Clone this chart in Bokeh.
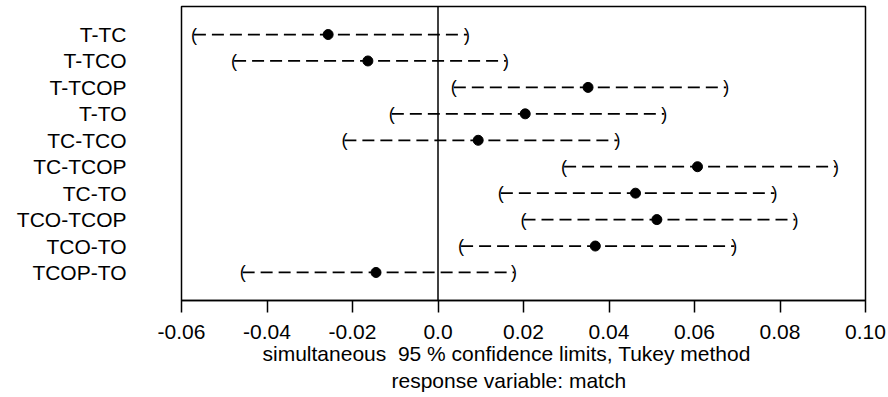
from bokeh.plotting import figure
from bokeh.models import Range1d, FixedTicker, Span, Title, CustomJSTickFormatter
from bokeh.embed import file_html
from bokeh.resources import INLINE
from bokeh.core.properties import value

comparisons = ["T-TC", "T-TCO", "T-TCOP", "T-TO", "TC-TCO",
               "TC-TCOP", "TC-TO", "TCO-TCOP", "TCO-TO", "TCOP-TO"]
estimate = [-0.0257, -0.0164, 0.0351, 0.0204, 0.0094,
            0.0607, 0.0462, 0.0512, 0.0368, -0.0145]
lower = [-0.0571, -0.0477, 0.0037, -0.0108, -0.0219,
         0.0295, 0.0147, 0.0200, 0.0054, -0.0457]
upper = [0.0068, 0.0159, 0.0674, 0.0529, 0.0420,
         0.0931, 0.0787, 0.0836, 0.0693, 0.0178]
x_ticks = [-0.06, -0.04, -0.02, 0.0, 0.02, 0.04, 0.06, 0.08, 0.10]
x_label = "simultaneous \u00a095 % confidence limits, Tukey method"
sub_label = "response variable: match"

FONT = "Liberation Sans"
n = len(comparisons)
ypos = [n - i for i in range(n)]

p = figure(width=888, height=397, output_backend="svg", toolbar_location=None,
           x_range=Range1d(-0.06, 0.10), y_range=Range1d(-0.06, n + 1.06),
           min_border_left=181, min_border_right=23, min_border_top=6,
           min_border_bottom=97, background_fill_color="white",
           border_fill_color="white")

p.xgrid.visible = False
p.ygrid.visible = False
p.outline_line_color = "black"
p.outline_line_width = 1.5
p.outline_line_alpha = 1.0

p.add_layout(Span(location=0, dimension="height", line_color="black", line_width=1.5))

p.segment(x0=lower, y0=ypos, x1=upper, y1=ypos, line_color="black",
          line_width=1.7, line_dash="12 6")
p.text(x=lower, y=ypos, text=["("] * n, text_font=value(FONT), text_font_size="18px",
       text_align="center", text_baseline="middle", text_color="black")
p.text(x=upper, y=ypos, text=[")"] * n, text_font=value(FONT), text_font_size="18px",
       text_align="center", text_baseline="middle", text_color="black")
p.scatter(x=estimate, y=ypos, size=10, color="black")

xa = p.xaxis[0]
xa.ticker = FixedTicker(ticks=x_ticks)
xa.formatter = CustomJSTickFormatter(code="return Math.abs(tick) < 1e-9 ? '0.0' : tick.toFixed(2);")
xa.major_tick_out = 12
xa.major_tick_in = 0
xa.minor_tick_out = 0
xa.minor_tick_in = 0
xa.major_tick_line_width = 1.5
xa.major_tick_line_color = "black"
xa.axis_line_width = 1.5
xa.axis_line_color = "black"
xa.major_label_standoff = 12
xa.major_label_text_font = FONT
xa.major_label_text_font_size = "21px"
xa.major_label_text_color = "black"

ya = p.yaxis[0]
ya.ticker = FixedTicker(ticks=ypos)
ya.major_label_overrides = {y: c for y, c in zip(ypos, comparisons)}
ya.axis_line_color = None
ya.major_tick_line_color = None
ya.minor_tick_line_color = None
ya.major_tick_out = 0
ya.major_tick_in = 0
ya.major_label_standoff = 55
ya.major_label_text_font = FONT
ya.major_label_text_font_size = "21px"
ya.major_label_text_color = "black"

for txt, off, so in [(x_label, 81, 0), (sub_label, 210, 4)]:
    p.add_layout(Title(text=txt, align="left", offset=off, text_font=FONT,
                       text_font_size="21px", text_font_style="normal",
                       text_color="black", standoff=so, vertical_align="top"), "below")

open("out.html", "w").write(file_html(p, INLINE))
